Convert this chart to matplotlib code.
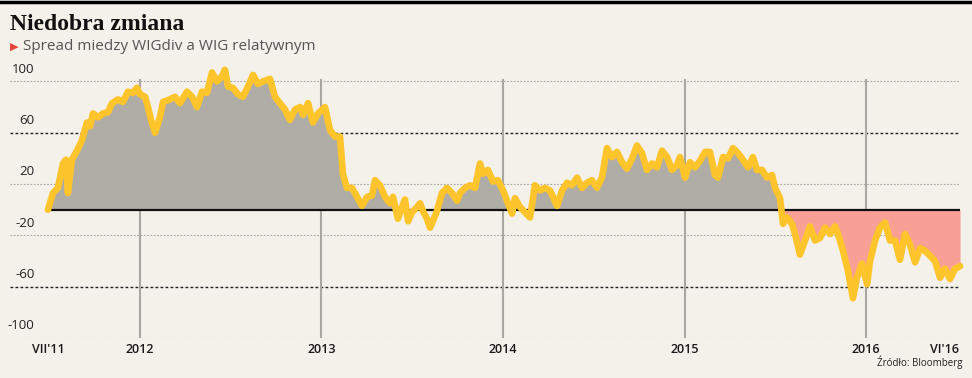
import matplotlib
matplotlib.use("Agg")
import matplotlib.pyplot as plt
import numpy as np

# spread WIGdiv vs WIG (decimal year, value)
years = np.array([
    2011.493, 2011.521, 2011.548, 2011.576, 2011.592, 2011.603, 2011.625, 2011.653,
    2011.680, 2011.708, 2011.725, 2011.741, 2011.769, 2011.796, 2011.824, 2011.846,
    2011.879, 2011.906, 2011.934, 2011.961, 2011.983, 2012.000, 2012.028, 2012.044,
    2012.061, 2012.083, 2012.110, 2012.127, 2012.165, 2012.193, 2012.220, 2012.259,
    2012.287, 2012.314, 2012.342, 2012.369, 2012.397, 2012.424, 2012.452, 2012.468,
    2012.485, 2012.512, 2012.540, 2012.567, 2012.595, 2012.623, 2012.650, 2012.678,
    2012.716, 2012.744, 2012.771, 2012.799, 2012.826, 2012.854, 2012.882, 2012.898,
    2012.926, 2012.953, 2012.981, 2013.019, 2013.047, 2013.074, 2013.102, 2013.118,
    2013.140, 2013.168, 2013.196, 2013.223, 2013.251, 2013.278, 2013.295, 2013.322,
    2013.350, 2013.377, 2013.394, 2013.421, 2013.444, 2013.460, 2013.477, 2013.499,
    2013.526, 2013.543, 2013.559, 2013.581, 2013.598, 2013.614, 2013.636, 2013.664,
    2013.691, 2013.719, 2013.747, 2013.763, 2013.791, 2013.818, 2013.846, 2013.873,
    2013.890, 2013.917, 2013.945, 2013.972, 2014.000, 2014.028, 2014.050, 2014.066,
    2014.094, 2014.121, 2014.149, 2014.176, 2014.204, 2014.231, 2014.259, 2014.298,
    2014.325, 2014.353, 2014.380, 2014.408, 2014.435, 2014.463, 2014.490, 2014.518,
    2014.545, 2014.573, 2014.601, 2014.628, 2014.656, 2014.683, 2014.711, 2014.738,
    2014.766, 2014.793, 2014.821, 2014.848, 2014.876, 2014.904, 2014.931, 2014.959,
    2014.975, 2015.003, 2015.030, 2015.058, 2015.085, 2015.113, 2015.140, 2015.168,
    2015.185, 2015.212, 2015.240, 2015.267, 2015.295, 2015.322, 2015.350, 2015.377,
    2015.399, 2015.427, 2015.455, 2015.482, 2015.499, 2015.526, 2015.543, 2015.565,
    2015.592, 2015.609, 2015.636, 2015.664, 2015.691, 2015.719, 2015.747, 2015.774,
    2015.802, 2015.829, 2015.846, 2015.873, 2015.901, 2015.928, 2015.950, 2015.978,
    2016.006, 2016.022, 2016.050, 2016.077, 2016.105, 2016.132, 2016.160, 2016.187,
    2016.215, 2016.242, 2016.270, 2016.298, 2016.325, 2016.353, 2016.380, 2016.408,
    2016.435, 2016.463, 2016.490, 2016.518,
])
spread = np.array([
    0, 13, 17, 36, 39, 13, 39, 46,
    54, 68, 65, 75, 72, 75, 76, 83,
    86, 84, 92, 91, 95, 90, 88, 80,
    70, 60, 72, 84, 86, 88, 83, 92,
    88, 80, 92, 91, 107, 100, 104, 109,
    96, 95, 90, 88, 96, 105, 98, 100,
    102, 88, 83, 78, 70, 78, 80, 74,
    83, 68, 75, 80, 62, 57, 57, 28,
    17, 17, 10, 3, 10, 11, 23, 19,
    10, 5, 10, -7, 2, 8, -9, -2,
    2, 5, -1, -7, -14, -9, -1, 13,
    17, 13, 7, 13, 17, 19, 17, 36,
    28, 31, 22, 23, 15, 5, -3, 9,
    2, -2, -6, 19, 15, 17, 15, 3,
    15, 21, 19, 25, 17, 21, 23, 17,
    25, 48, 41, 45, 37, 32, 40, 50,
    44, 31, 36, 33, 46, 41, 31, 35,
    41, 25, 37, 33, 38, 45, 45, 27,
    25, 41, 40, 48, 44, 39, 33, 41,
    31, 31, 25, 27, 17, 9, -11, -6,
    -11, -19, -35, -24, -13, -24, -22, -14,
    -19, -13, -19, -32, -48, -69, -53, -42,
    -58, -40, -24, -14, -10, -24, -24, -39,
    -19, -27, -41, -30, -32, -36, -40, -53,
    -46, -54, -46, -44,
])

y_ticks = [100, 60, 20, -20, -60, -100]
dark_grid = [60, -60]
year_lines = [2012, 2013, 2014, 2015, 2016]
x_tick_pos = [2011.493, 2012, 2013, 2014, 2015, 2016, 2016.43]
x_tick_labels = ["VII'11", "2012", "2013", "2014", "2015", "2016", "VI'16"]
red_from = 2015.5

bg = "#f4f0ea"
yellow = "#fdc52b"
grey_fill = "#b0aca6"
red_fill = "#f9a096"

fig = plt.figure(figsize=(9.72, 3.78), dpi=100, facecolor=bg)
ax = fig.add_axes([0.0103, 0.1058, 0.9774, 0.7196])
ax.set_facecolor(bg)
xmin, xmax = 2011.284, 2016.518
ax.set_xlim(xmin, xmax)
ax.set_ylim(-100, 112)
for s in ax.spines.values():
    s.set_visible(False)
ax.set_xticks([])
ax.set_yticks([])

# grid
for v in y_ticks:
    if v in dark_grid:
        ax.hlines(v, xmin, xmax, colors="#222222", lw=1.0, linestyles=(0, (2, 1.6)), zorder=1)
    else:
        ax.hlines(v, xmin, xmax, colors="#a8a4a0", lw=0.8, linestyles=(0, (1.5, 1.5)), zorder=1)
    ax.text(0.026, v + 4.5, str(v), transform=ax.get_yaxis_transform(),
            ha="right", va="bottom", fontsize=9.5, color="#222222", family="Open Sans")
ax.vlines(year_lines, -100, 101.5, colors="#aaa6a1", lw=1.5, zorder=1.5)

# fills
ax.fill_between(years, 0, spread, where=(spread > 0) & (years < red_from + 0.1),
                interpolate=True, color=grey_fill, lw=0, zorder=2)
ax.fill_between(years, 0, spread, where=(spread < 0) & (years > red_from),
                interpolate=True, color=red_fill, lw=0, zorder=2)
ax.hlines(0, years[0], xmax, colors="#111111", lw=1.6, zorder=3)
ax.plot(years, spread, color=yellow, lw=4.8, solid_joinstyle="round",
        solid_capstyle="round", zorder=4, clip_on=False)

# x labels
for p, lab in zip(x_tick_pos, x_tick_labels):
    ax.text(p, -104, lab, ha="center", va="top", fontsize=9, color="#1a1a1a",
            family="Open Sans", fontweight="semibold")

# header
fig.add_artist(plt.Line2D([0, 1], [0.996, 0.996], color="black", lw=2.5))
fig.text(0.0103, 0.92, "Niedobra zmiana", fontsize=17, fontweight="bold",
         family="Liberation Serif", color="#111111", va="baseline")
fig.text(0.0103, 0.876, "\u25B6", fontsize=8, color="#e8453c", va="center",
         family="DejaVu Sans")
fig.text(0.024, 0.876, "Spread miedzy WIGdiv a WIG relatywnym", fontsize=11,
         color="#555555", va="center", family="Open Sans")
fig.text(0.99, 0.042, "\u0179r\u00f3d\u0142o: Bloomberg", fontsize=7, ha="right",
         va="center", color="#222222", family="Open Sans")

fig.savefig("out.png", dpi=100, facecolor=bg)
